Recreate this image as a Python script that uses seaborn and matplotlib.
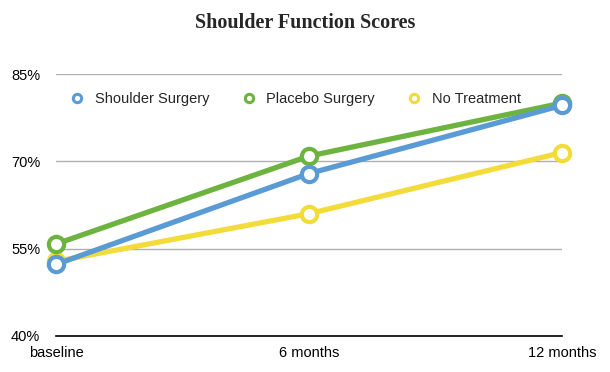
import matplotlib
matplotlib.use("Agg")
import matplotlib.pyplot as plt
from matplotlib.lines import Line2D
import pandas as pd
import seaborn as sns

timepoints = ["baseline", "6 months", "12 months"]
shoulder_surgery = [52.3, 67.9, 79.6]
placebo_surgery = [55.8, 70.9, 80.0]
no_treatment = [52.8, 61.0, 71.5]
series_names = ["Shoulder Surgery", "Placebo Surgery", "No Treatment"]
colors = {"Shoulder Surgery": "#5b9bd5",
          "Placebo Surgery": "#6db33f",
          "No Treatment": "#f3dc3a"}

rows = []
for name, vals in zip(series_names, [shoulder_surgery, placebo_surgery, no_treatment]):
    for i, (t, v) in enumerate(zip(timepoints, vals)):
        rows.append({"series": name, "pos": i, "time": t, "score": v})
df = pd.DataFrame(rows)

sns.set_style("white")
plt.rcParams["font.family"] = ["Liberation Sans", "DejaVu Sans"]

fig = plt.figure(figsize=(6.1, 3.72), dpi=100)
ax = fig.add_axes([0.092, 0.097, 0.829, 0.704])

# draw order: no treatment at the back, shoulder surgery on top
for z, name in zip([3, 4, 5], ["No Treatment", "Placebo Surgery", "Shoulder Surgery"]):
    sub = df[df["series"] == name]
    sns.lineplot(data=sub, x="pos", y="score", ax=ax, color=colors[name],
                 linewidth=3.8, marker="o", markersize=11,
                 markerfacecolor="white", markeredgecolor=colors[name],
                 markeredgewidth=3.0, zorder=z, clip_on=False, legend=False)

ax.set_xlim(0, 2)
ax.set_ylim(40, 85)
ax.set_yticks([40, 55, 70, 85])
ax.set_yticklabels(["40%", "55%", "70%", "85%"])
ax.set_xticks(range(len(timepoints)))
ax.set_xticklabels(timepoints)
ax.set_xlabel("")
ax.set_ylabel("")
ax.grid(axis="y", color="#b0b0b0", linewidth=1)
ax.grid(axis="x", visible=False)
for s in ["top", "right", "left"]:
    ax.spines[s].set_visible(False)
ax.spines["bottom"].set_color("black")
ax.spines["bottom"].set_linewidth(1.2)
ax.tick_params(axis="both", length=0, labelsize=10.5, colors="black")
ax.tick_params(axis="y", pad=11.5)
ax.tick_params(axis="x", pad=7)

handles = [Line2D([], [], linestyle="none", marker="o", markersize=6,
                  markerfacecolor="white", markeredgecolor=colors[n],
                  markeredgewidth=2.2) for n in series_names]
ax.legend(handles, series_names, loc="upper center", bbox_to_anchor=(0.47, 0.98),
          ncol=3, frameon=False, fontsize=10.5, handlelength=1.4,
          handletextpad=0.5, columnspacing=2.0)

fig.suptitle("Shoulder Function Scores", y=0.965, fontsize=14.5, fontweight="bold",
             family=["Liberation Serif", "DejaVu Serif"])

fig.savefig("out.png", dpi=100)
